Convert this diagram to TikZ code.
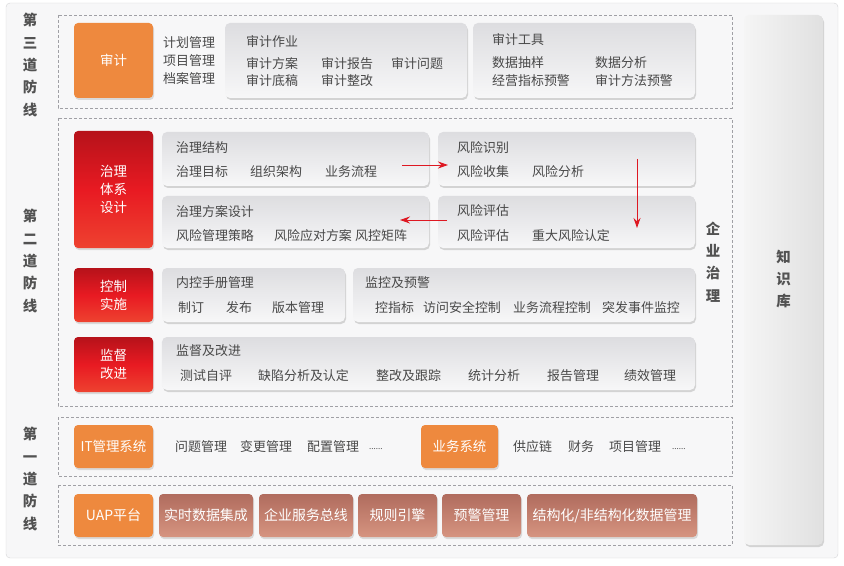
\documentclass[tikz,border=0pt]{standalone}
\usepackage{fontspec}
\setmainfont{Noto Sans CJK SC}
\usetikzlibrary{arrows.meta, shadows}
\definecolor{framefill}{RGB}{247,247,248}
\definecolor{framedraw}{RGB}{212,212,214}
\definecolor{zonedraw}{RGB}{160,160,165}
\definecolor{auditorange}{RGB}{238,137,62}
\definecolor{redtop}{RGB}{182,18,26}
\definecolor{redmid}{RGB}{232,26,34}
\definecolor{redbottom}{RGB}{238,66,48}
\definecolor{bricktop}{RGB}{176,108,94}
\definecolor{brickbottom}{RGB}{214,148,128}
\definecolor{paneltop}{RGB}{221,221,224}
\definecolor{panelbottom}{RGB}{247,247,248}
\definecolor{textgray}{RGB}{72,72,72}
\definecolor{labelgray}{RGB}{82,82,82}
\definecolor{arrowred}{RGB}{222,24,34}

\begin{document}
\begin{tikzpicture}[
    x=1bp, y=-1bp,
    zone/.style={draw=zonedraw, dash pattern=on 3bp off 2bp, line width=0.6bp},
    orangebox/.style={fill=auditorange, rounded corners=4bp, text=white, drop shadow={opacity=0.25, shadow xshift=1bp, shadow yshift=-2bp}, font=\fontsize{13.5}{17}\selectfont, align=center, inner sep=0pt},
    redbox/.style={top color=redtop, bottom color=redbottom, middle color=redmid, rounded corners=4bp, text=white, drop shadow={opacity=0.25, shadow xshift=1bp, shadow yshift=-2bp}, font=\fontsize{13.5}{18}\selectfont, align=center, inner sep=0pt, minimum width=79bp},
    panel/.style={top color=paneltop, bottom color=panelbottom, rounded corners=5bp, drop shadow={opacity=0.3, shadow xshift=1bp, shadow yshift=-2bp}, inner sep=0pt},
    brick/.style={top color=bricktop, bottom color=brickbottom, rounded corners=4bp, text=white, drop shadow={opacity=0.25, shadow xshift=1bp, shadow yshift=-2bp}, font=\fontsize{14}{17}\selectfont, inner sep=0pt, minimum height=43bp},
    item/.style={anchor=west, inner sep=0pt, text=textgray, font=\fontsize{13}{16}\selectfont},
    dots/.style={anchor=west, inner sep=0pt, text=textgray, font=\fontsize{8}{10}\selectfont},
    vlabel/.style={inner sep=0pt, text=labelgray, align=center, font=\fontsize{14.5}{22.5}\selectfont\bfseries},
    flow/.style={draw=arrowred, line width=0.9bp, -{Stealth[length=10bp, width=7bp]}},
]
    \useasboundingbox (0,0) rectangle (844,566);

    % Frame and zones
    \draw[draw=framedraw, fill=framefill, rounded corners=4bp] (6,3) rectangle (838,558);
    \draw[zone] (58,15) rectangle (732,108);
    \draw[zone] (58,118) rectangle (732,406);
    \draw[zone] (58,417) rectangle (732,476);
    \draw[zone] (58,485) rectangle (732,545);

    % Side labels
    \node[vlabel] (line3) at (30,65) {第\\三\\道\\防\\线};
    \node[vlabel] (line2) at (30,261) {第\\二\\道\\防\\线};
    \node[vlabel] (line1) at (30,479) {第\\一\\道\\防\\线};
    \node[vlabel] (govern) at (713,262) {企\\业\\治\\理};
    \node[panel, left color=white!96!black, right color=white!88!black, minimum width=79bp, minimum height=530bp] (kb) at (783.5,280) {};
    \node[vlabel] (kbtext) at (783.5,279) {知\\识\\库};

    % Third line: audit
    \node[orangebox, minimum width=79bp, minimum height=75bp] (audit) at (113.5,60.5) {审计};
    \node[item] (plan) at (163,43) {计划管理};
    \node[item] (project) at (163,61) {项目管理};
    \node[item] (archive) at (163,79) {档案管理};

    \node[panel, minimum width=242bp, minimum height=75bp] (work) at (346,60.5) {};
    \node[item] (worktitle) at (246,42) {审计作业};
    \node[item] (scheme) at (246,64) {审计方案};
    \node[item] (report) at (321,64) {审计报告};
    \node[item] (issue) at (391,64) {审计问题};
    \node[item] (draft) at (246,81) {审计底稿};
    \node[item] (rectify) at (321,81) {审计整改};

    \node[panel, minimum width=222bp, minimum height=75bp] (tool) at (584,60.5) {};
    \node[item] (tooltitle) at (492,40) {审计工具};
    \node[item] (sampling) at (492,63) {数据抽样};
    \node[item] (analysis) at (595,63) {数据分析};
    \node[item] (kpiwarn) at (492,81) {经营指标预警};
    \node[item] (methodwarn) at (595,81) {审计方法预警};

    % Second line: governance
    \node[redbox, minimum height=117bp] (design) at (113.5,189.5) {治理\\体系\\设计};
    \node[panel, minimum width=267bp, minimum height=54bp] (structure) at (295.5,159) {};
    \node[item] (structtitle) at (176,148) {治理结构};
    \node[item] (goal) at (176,172) {治理目标};
    \node[item] (org) at (250,172) {组织架构};
    \node[item] (process) at (325,172) {业务流程};

    \node[panel, minimum width=257bp, minimum height=54bp] (identify) at (566.5,159) {};
    \node[item] (identtitle) at (457,148) {风险识别};
    \node[item] (collect) at (457,172) {风险收集};
    \node[item] (riskana) at (532,172) {风险分析};

    \node[panel, minimum width=267bp, minimum height=52bp] (schemedesign) at (295.5,222) {};
    \node[item] (schemetitle) at (176,212) {治理方案设计};
    \node[item] (strategy) at (176,236) {风险管理策略};
    \node[item] (response) at (274,236) {风险应对方案};
    \node[item] (matrix) at (355,236) {风控矩阵};

    \node[panel, minimum width=257bp, minimum height=52bp] (assess) at (566.5,222) {};
    \node[item] (assesstitle) at (457,211) {风险评估};
    \node[item] (evaluate) at (457,236) {风险评估};
    \node[item] (major) at (532,236) {重大风险认定};

    % Flow between governance panels
    \coordinate (a1) at (402,165);
    \coordinate (a2) at (448,165);
    \coordinate (b1) at (637,159);
    \coordinate (b2) at (637,228);
    \coordinate (c1) at (447,220);
    \coordinate (c2) at (400,220);
    \draw[flow] (a1) -- (a2);
    \draw[flow] (b1) -- (b2);
    \draw[flow] (c1) -- (c2);

    % Second line: control
    \node[redbox, minimum height=54bp] (control) at (113.5,295) {控制\\实施};
    \node[panel, minimum width=183bp, minimum height=54bp] (manual) at (253.5,295) {};
    \node[item] (manualtitle) at (176,283) {内控手册管理};
    \node[item] (draftup) at (178,308) {制订};
    \node[item] (publish) at (226,308) {发布};
    \node[item] (version) at (272,308) {版本管理};

    \node[panel, minimum width=342bp, minimum height=54bp] (monitor) at (524,295) {};
    \node[item] (monitortitle) at (365,283) {监控及预警};
    \node[item] (indicator) at (375,308) {控指标};
    \node[item] (access) at (423,308) {访问安全控制};
    \node[item] (flowctrl) at (513,308) {业务流程控制};
    \node[item] (incident) at (602,308) {突发事件监控};

    % Second line: supervision
    \node[redbox, minimum height=55bp] (supervise) at (113.5,364.5) {监督\\改进};
    \node[panel, minimum width=533bp, minimum height=53bp] (improve) at (428.5,363.5) {};
    \node[item] (improvetitle) at (176,351) {监督及改进};
    \node[item] (selftest) at (180,376) {测试自评};
    \node[item] (defect) at (258,376) {缺陷分析及认定};
    \node[item] (track) at (376,376) {整改及跟踪};
    \node[item] (stats) at (468,376) {统计分析};
    \node[item] (reportmgmt) at (547,376) {报告管理};
    \node[item] (perf) at (624,376) {绩效管理};

    % First line
    \node[orangebox, minimum width=79bp, minimum height=43bp] (itsys) at (113.5,446.5) {IT管理系统};
    \node[item] (problem) at (175,446.5) {问题管理};
    \node[item] (change) at (240,446.5) {变更管理};
    \node[item] (config) at (307,446.5) {配置管理};
    \node[dots] (itmore) at (369,449) {......};
    \node[orangebox, minimum width=77bp, minimum height=43bp] (bizsys) at (459.5,446.5) {业务系统};
    \node[item] (supply) at (513,446.5) {供应链};
    \node[item] (finance) at (568,446.5) {财务};
    \node[item] (projmgmt) at (609,446.5) {项目管理};
    \node[dots] (bizmore) at (672,449) {......};

    \node[orangebox, minimum width=79bp, minimum height=43bp, font=\fontsize{14}{17}\selectfont] (uap) at (113.5,515.5) {UAP平台};
    \node[brick, minimum width=94bp] (realtime) at (206,515.5) {实时数据集成};
    \node[brick, minimum width=94bp] (esb) at (306,515.5) {企业服务总线};
    \node[brick, minimum width=79bp] (rules) at (397.5,515.5) {规则引擎};
    \node[brick, minimum width=79bp] (warning) at (481.5,515.5) {预警管理};
    \node[brick, minimum width=170bp] (datamgmt) at (612,515.5) {结构化/非结构化数据管理};

\end{tikzpicture}
\end{document}
